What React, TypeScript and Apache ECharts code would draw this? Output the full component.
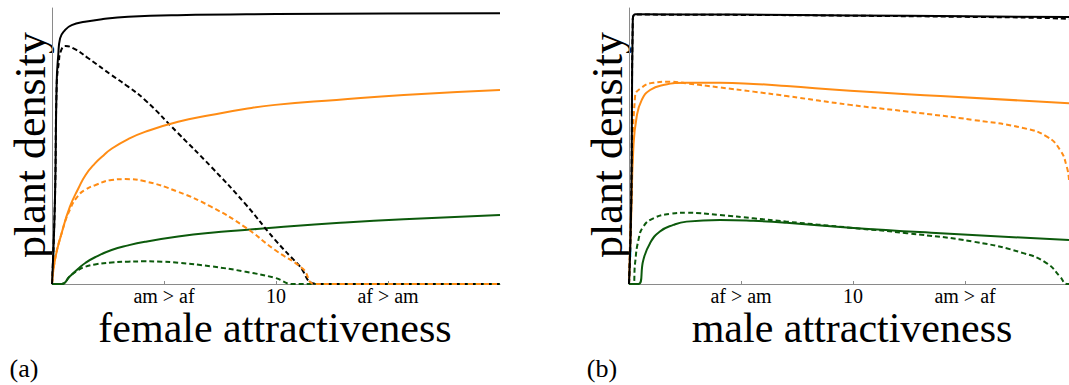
import React, { useEffect, useRef } from "react";
import * as echarts from "echarts";

// x ticks every 5 units; labels at 0,5,10,15,20
const tickLabelsA = ["", "am > af", "10", "af > am", ""];
const tickLabelsB = ["", "af > am", "10", "am > af", ""];
const xTitleA = "female attractiveness";
const xTitleB = "male attractiveness";
const yTitle = "plant density";

// panel (a): female attractiveness
const aBlackSolid = [[0,0],[0.13,0.3],[0.21,0.733],[0.28,0.83],[0.36,0.89],[0.58,0.92],[0.88,0.938],[1.47,0.95],[2.28,0.96],[3.4,0.968],[5.6,0.974],[10,0.978],[15,0.98],[20,0.981]];
const aBlackDash = [[0,0],[0.13,0.3],[0.21,0.72],[0.3,0.8],[0.4,0.845],[0.6,0.862],[1.0,0.852],[1.62,0.818],[2.66,0.757],[3.4,0.715],[4.15,0.667],[5.63,0.546],[7.1,0.425],[8.6,0.293],[9.96,0.16],[11.0,0.07],[11.85,0],[20,0]];
const aOrangeSolid = [[0,0],[0.13,0.087],[0.43,0.184],[0.8,0.28],[1.17,0.345],[1.5,0.395],[1.92,0.437],[2.3,0.466],[2.66,0.49],[3.4,0.525],[4.15,0.551],[5.63,0.588],[7.1,0.612],[8.6,0.634],[9.96,0.649],[12.7,0.667],[15.7,0.685],[20,0.703]];
const aOrangeDash = [[0,0],[0.13,0.087],[0.43,0.184],[0.8,0.27],[1.17,0.32],[1.5,0.342],[1.92,0.358],[2.66,0.377],[3.26,0.38],[4.15,0.372],[5.63,0.334],[7.1,0.28],[8.6,0.207],[9.96,0.123],[11.2,0.055],[11.75,0],[20,0]];
const aGreenSolid = [[0,0],[0.43,0],[0.8,0.028],[1.17,0.055],[1.5,0.077],[1.92,0.097],[2.66,0.123],[3.4,0.14],[4.15,0.153],[5.63,0.172],[7.1,0.186],[8.6,0.196],[9.96,0.205],[12.7,0.221],[15.7,0.235],[20,0.25]];
const aGreenDash = [[0,0],[0.43,0],[0.8,0.028],[1.17,0.05],[1.5,0.063],[1.92,0.071],[2.66,0.078],[3.4,0.081],[4.15,0.082],[4.9,0.081],[5.63,0.077],[7.1,0.064],[8.6,0.045],[9.96,0.022],[10.76,0],[20,0]];

// panel (b): male attractiveness
const bBlackSolid = [[0,0],[0.1,0.3],[0.17,0.96],[0.3,0.977],[5,0.976],[10,0.973],[15,0.97],[19.64,0.967]];
const bBlackDash = [[0,0],[0.1,0.3],[0.17,0.96],[0.3,0.976],[5,0.975],[10,0.972],[15,0.968],[18.5,0.964],[19.64,0.96]];
const bOrangeSolid = [[0,0],[0.1,0.25],[0.19,0.486],[0.34,0.605],[0.57,0.667],[0.94,0.703],[1.53,0.721],[2.57,0.729],[4.06,0.729],[5.55,0.725],[7.04,0.717],[9.87,0.7],[13.9,0.681],[19.64,0.655]];
const bOrangeDash = [[0,0],[0.1,0.3],[0.27,0.679],[0.57,0.712],[1.09,0.729],[1.83,0.733],[2.57,0.727],[4.06,0.712],[5.55,0.697],[7.04,0.681],[9.87,0.649],[12.4,0.625],[15.4,0.594],[17.6,0.565],[18.65,0.534],[19.24,0.486],[19.54,0.425],[19.64,0.377]];
const bGreenSolid = [[0,0],[0.42,0],[0.64,0.087],[0.94,0.148],[1.38,0.19],[1.98,0.214],[2.57,0.226],[4.06,0.232],[5.55,0.229],[7.04,0.222],[9.87,0.204],[13.9,0.184],[19.64,0.159]];
const bGreenDash = [[0,0],[0.19,0],[0.27,0.075],[0.42,0.159],[0.64,0.208],[1.09,0.238],[1.83,0.254],[2.57,0.258],[4.06,0.25],[5.55,0.238],[7.04,0.226],[9.87,0.204],[12.4,0.184],[15.4,0.153],[17.6,0.112],[18.65,0.075],[19.24,0.027],[19.54,0],[19.64,0]];

const BLACK = "#000000";
const ORANGE = "#ff8c14";
const GREEN = "#0c5a0c";
const FONT = "Liberation Serif";

function line(data: number[][], color: string, dashed: boolean, idx: number, z: number) {
  return {
    type: "line",
    xAxisIndex: idx,
    yAxisIndex: idx,
    data,
    showSymbol: false,
    symbol: "none",
    smooth: 0.5,
    z,
    lineStyle: { color, width: 2, type: dashed ? [5, 3] : "solid" },
  };
}

function xAxis(idx: number, labels: string[], max: number) {
  return {
    type: "value",
    gridIndex: idx,
    min: 0,
    max,
    interval: 5,
    splitLine: { show: false },
    axisLine: { show: true, lineStyle: { color: "#8a8a8a", width: 1 } },
    axisTick: { show: true, inside: true, length: 3, lineStyle: { color: "#8a8a8a" } },
    axisLabel: {
      show: true,
      margin: 2,
      fontFamily: FONT,
      fontSize: 20,
      color: "#000",
      showMinLabel: false,
      showMaxLabel: false,
      formatter: (v: number) => labels[Math.round(v / 5)] || "",
    },
  };
}

function yAxis(idx: number) {
  return {
    type: "value",
    gridIndex: idx,
    min: 0,
    max: 1,
    splitLine: { show: false },
    axisLine: { show: true, lineStyle: { color: "#8a8a8a", width: 1 } },
    axisTick: { show: false },
    axisLabel: { show: false },
  };
}

export default function App() {
  const ref = useRef<HTMLDivElement>(null);
  useEffect(() => {
    if (!ref.current) return;
    const chart = echarts.init(ref.current, undefined, { renderer: "svg" });
    const text = (t: string, x: number, y: number, size: number, rot = 0) => ({
      type: "text",
      x,
      y,
      rotation: rot,
      style: {
        text: t,
        fontFamily: FONT,
        fontSize: size,
        fill: "#000",
        textAlign: "center",
        textVerticalAlign: "middle",
      },
    });
    chart.setOption({
      animation: false,
      backgroundColor: "#ffffff",
      grid: [
        { left: 52, top: 8, width: 448, height: 276 },
        { left: 629, top: 8, width: 440, height: 276 },
      ],
      xAxis: [xAxis(0, tickLabelsA, 20), xAxis(1, tickLabelsB, 19.64)],
      yAxis: [yAxis(0), yAxis(1)],
      series: [
        line(aGreenDash, GREEN, true, 0, 2),
        line(aGreenSolid, GREEN, false, 0, 2),
        line(aBlackDash, BLACK, true, 0, 3),
        line(aOrangeSolid, ORANGE, false, 0, 4),
        line(aOrangeDash, ORANGE, true, 0, 5),
        line(aBlackSolid, BLACK, false, 0, 6),
        line(bGreenSolid, GREEN, false, 1, 2),
        line(bGreenDash, GREEN, true, 1, 3),
        line(bOrangeSolid, ORANGE, false, 1, 4),
        line(bOrangeDash, ORANGE, true, 1, 5),
        line(bBlackSolid, BLACK, false, 1, 6),
        line(bBlackDash, BLACK, true, 1, 7),
      ],
      graphic: [
        text(yTitle, 30, 145, 44, Math.PI / 2),
        text(yTitle, 607, 145, 44, Math.PI / 2),
        text(xTitleA, 275, 328, 42),
        text(xTitleB, 852, 328, 42),
        text("(a)", 24, 368, 26),
        text("(b)", 602, 368, 26),
      ],
    });
    return () => chart.dispose();
  }, []);
  return (
    <div
      ref={ref}
      style={{ position: "fixed", left: 0, top: 0, width: 1069, height: 385, background: "#fff" }}
    />
  );
}
